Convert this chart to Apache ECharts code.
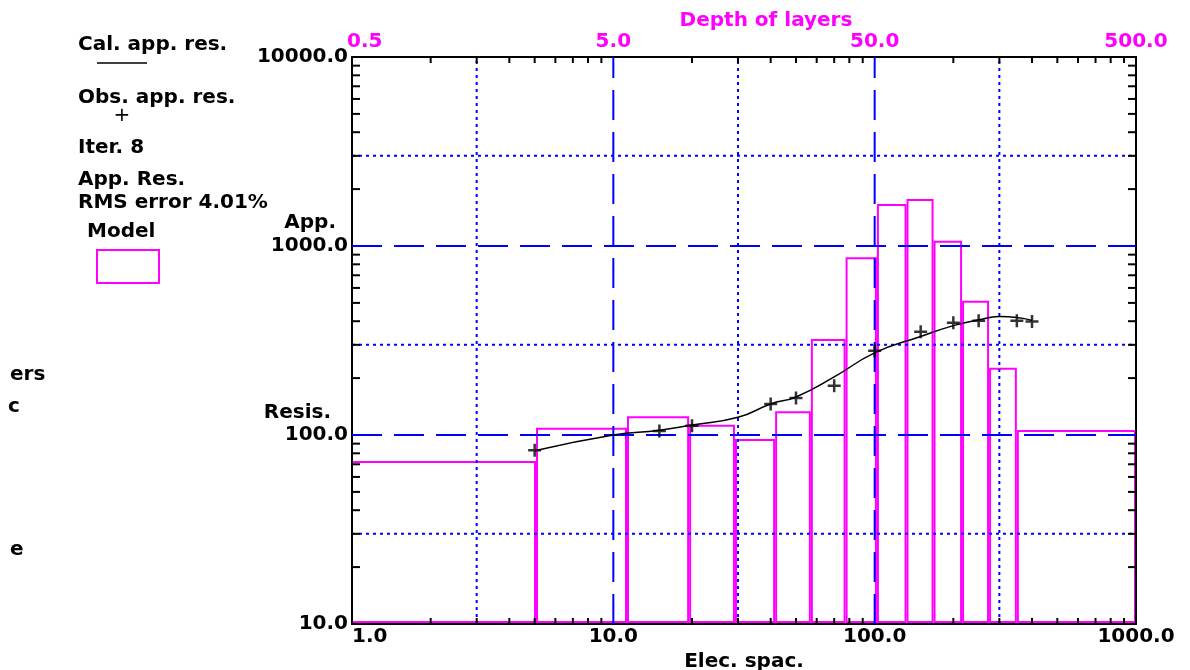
<!DOCTYPE html>
<html>
<head>
<meta charset="UTF-8">
<title>Resistivity sounding</title>
<script src="https://cdn.jsdelivr.net/npm/echarts@6/dist/echarts.min.js"></script>
<style>
body{margin:0;background:#fff}
#chart{width:1190px;height:670px}
</style>
</head>
<body>
<div id="chart"></div>
<script>
// observed apparent resistivity (electrode spacing, ohm.m)
var obsSpac = [5, 15, 20, 40, 50, 70, 100, 150, 200, 250, 350, 400];
var obsRes = [83, 105, 112, 146, 157, 182, 279, 352, 393, 402, 402, 398];
// calculated apparent resistivity
var calSpac = [5, 10, 15, 20, 30, 40, 50, 70, 100, 150, 200, 250, 300, 350, 400];
var calRes = [82.6, 100, 106, 113, 124, 146, 159, 203, 272, 332, 379, 407, 423, 418, 404];
// model: depth to bottom of each layer, resistivity of each layer
var layerBottom = [2.53, 5.64, 9.75, 14.6, 20.8, 28.5, 38.7, 51.0, 66.2, 84.0, 108, 137, 175];
var layerRes = [72, 108, 124, 112, 94, 132, 318, 861, 1650, 1750, 1054, 507, 224, 105];
// axis decoration
var depthLabels = [0.5, 5, 50, 500];
var xMinor = [2, 3, 4, 5, 6, 7, 8, 9, 20, 30, 40, 50, 60, 70, 80, 90, 200, 300, 400, 500, 600, 700, 800, 900];
var yMinor = [20, 30, 40, 50, 60, 70, 80, 90, 200, 300, 400, 500, 600, 700, 800, 900, 2000, 3000, 4000, 5000, 6000, 7000, 8000, 9000];
var xDash = [10, 100], xDot = [3, 30, 300];
var yDash = [100, 1000], yDot = [30, 300, 3000];

var FONT = 'bold 20px "DejaVu Sans"';
var BLUE = '#0000ff', PINK = '#ff00ff';

var chart = echarts.init(document.getElementById('chart'));

// layer boxes, in depth units on the top axis
var layerData = layerRes.map(function (r, i) {
	var d0 = i === 0 ? 0.5 : layerBottom[i - 1];
	var d1 = i < layerBottom.length ? layerBottom[i] : 500;
	return [d0, d1, r];
});

function renderLayer(params, api) {
	var a = api.coord([api.value(0), api.value(2)]);
	var b = api.coord([api.value(1), 10]);
	var x0 = params.dataIndex === 0 ? a[0] : a[0] + 1;
	return {
		type: 'rect',
		shape: {x: x0, y: a[1], width: b[0] - x0 - 1, height: b[1] - a[1] - 2},
		style: {fill: null, stroke: PINK, lineWidth: 2}
	};
}

function vLine(dash) {
	return function (params, api) {
		var b = api.coord([api.value(0), 10]);
		var t = api.coord([api.value(0), 10000]);
		return {type: 'line', shape: {x1: b[0], y1: b[1], x2: t[0], y2: t[1]},
			style: {stroke: BLUE, lineWidth: 2, lineDash: dash}};
	};
}
function hLine(dash) {
	return function (params, api) {
		var l = api.coord([1, api.value(1)]);
		var r = api.coord([1000, api.value(1)]);
		return {type: 'line', shape: {x1: l[0], y1: l[1], x2: r[0], y2: r[1]},
			style: {stroke: BLUE, lineWidth: 2, lineDash: dash}};
	};
}

function renderXTick(params, api) {
	var b = api.coord([api.value(0), 10]);
	var t = api.coord([api.value(0), 10000]);
	return {type: 'group', children: [
		{type: 'line', shape: {x1: b[0], y1: b[1], x2: b[0], y2: b[1] - 6}, style: {stroke: '#000', lineWidth: 2}},
		{type: 'line', shape: {x1: t[0], y1: t[1], x2: t[0], y2: t[1] + 6}, style: {stroke: '#000', lineWidth: 2}}
	]};
}
function renderYTick(params, api) {
	var l = api.coord([1, api.value(1)]);
	var r = api.coord([1000, api.value(1)]);
	return {type: 'group', children: [
		{type: 'line', shape: {x1: l[0], y1: l[1], x2: l[0] + 8, y2: l[1]}, style: {stroke: '#000', lineWidth: 2}},
		{type: 'line', shape: {x1: r[0], y1: r[1], x2: r[0] - 8, y2: r[1]}, style: {stroke: '#000', lineWidth: 2}}
	]};
}

function renderDepthLabel(params, api) {
	var p = api.coord([api.value(0), 10000]);
	var first = params.dataIndex === 0;
	return {
		type: 'text',
		x: first ? p[0] - 5 : p[0],
		y: p[1] - 5,
		style: {
			text: api.value(0).toFixed(1),
			font: FONT, fill: PINK,
			align: first ? 'left' : 'center', textAlign: first ? 'left' : 'center',
			verticalAlign: 'bottom', textVerticalAlign: 'bottom'
		}
	};
}

function txt(s, x, y, align, color) {
	return {
		type: 'text', x: x, y: y, silent: true,
		style: {text: s, font: FONT, fill: color || '#000',
			align: align || 'left', textAlign: align || 'left',
			verticalAlign: 'middle', textVerticalAlign: 'middle'}
	};
}

var plusPath = 'path://M5.25,0H7.75V5.25H13V7.75H7.75V13H5.25V7.75H0V5.25H5.25Z';

var option = {
	animation: false,
	backgroundColor: '#fff',
	textStyle: {fontFamily: 'DejaVu Sans'},
	grid: {left: 352, top: 57, right: 54, bottom: 46, containLabel: false, outerBoundsMode: 'none'},
	xAxis: [
		{
			type: 'log', logBase: 10, min: 1, max: 1000, position: 'bottom', z: 1,
			name: 'Elec. spac.', nameLocation: 'middle', nameGap: 25,
			nameTextStyle: {fontWeight: 'bold', fontSize: 20, color: '#000'},
			axisLine: {lineStyle: {color: '#000', width: 2}},
			axisTick: {show: false},
			splitLine: {show: false},
			axisLabel: {
				color: '#000', fontWeight: 'bold', fontSize: 20, margin: 3,
				alignMinLabel: 'left',
				formatter: function (v) { return v.toFixed(1); }
			}
		},
		{
			type: 'log', logBase: 10, min: 0.5, max: 500, position: 'top', z: 1,
			axisLine: {lineStyle: {color: '#000', width: 2}},
			axisTick: {show: false},
			axisLabel: {show: false},
			splitLine: {show: false}
		}
	],
	yAxis: [
		{
			type: 'log', logBase: 10, min: 10, max: 10000, position: 'left', z: 1,
			axisLine: {lineStyle: {color: '#000', width: 2}},
			axisTick: {show: false},
			splitLine: {show: false},
			axisLabel: {
				color: '#000', fontWeight: 'bold', fontSize: 20, margin: 4,
				formatter: function (v) { return v.toFixed(1); }
			}
		},
		{
			type: 'log', logBase: 10, min: 10, max: 10000, position: 'right', z: 1,
			axisLine: {lineStyle: {color: '#000', width: 2}},
			axisTick: {show: false},
			axisLabel: {show: false},
			splitLine: {show: false}
		}
	],
	graphic: [
		txt('Cal. app. res.', 78, 45),
		{type: 'line', shape: {x1: 97, y1: 63, x2: 147, y2: 63}, style: {stroke: '#000', lineWidth: 1.5}},
		txt('Obs. app. res.', 78, 98),
		{type: 'text', x: 122, y: 116, style: {text: '+', font: '20px "DejaVu Sans"', fill: '#000',
			align: 'center', textAlign: 'center', verticalAlign: 'middle', textVerticalAlign: 'middle'}},
		txt('Iter. 8', 78, 148),
		txt('App. Res.', 78, 180),
		txt('RMS error 4.01%', 78, 203),
		txt('Model', 87, 232),
		{type: 'rect', shape: {x: 97, y: 250, width: 62, height: 33}, style: {fill: null, stroke: PINK, lineWidth: 2}},
		txt('App.', 336, 223, 'right'),
		txt('Resis.', 331, 413, 'right'),
		txt('Depth of layers', 766, 21, 'center', PINK),
		txt('ers', 10, 375),
		txt('c', 8, 407),
		txt('e', 10, 550)
	],
	series: [
		{
			name: 'Model', type: 'custom', xAxisIndex: 1, yAxisIndex: 0, z: 0,
			encode: {x: [0, 1], y: 2},
			renderItem: renderLayer, data: layerData, silent: true
		},
		{type: 'custom', z: 3, renderItem: vLine([30, 12]), data: xDash.map(function (v) { return [v, 10]; }), silent: true},
		{type: 'custom', z: 3, renderItem: vLine([3, 4]), data: xDot.map(function (v) { return [v, 10]; }), silent: true},
		{type: 'custom', z: 3, renderItem: hLine([30, 12]), data: yDash.map(function (v) { return [1, v]; }), silent: true},
		{type: 'custom', z: 3, renderItem: hLine([3, 4]), data: yDot.map(function (v) { return [1, v]; }), silent: true},
		{type: 'custom', z: 3, renderItem: renderXTick, data: xMinor.map(function (v) { return [v, 10]; }), silent: true},
		{type: 'custom', z: 3, renderItem: renderYTick, data: yMinor.map(function (v) { return [1, v]; }), silent: true},
		{
			type: 'custom', xAxisIndex: 1, yAxisIndex: 0, z: 3,
			renderItem: renderDepthLabel, data: depthLabels.map(function (v) { return [v, 10000]; }), silent: true
		},
		{
			name: 'Cal. app. res.', type: 'line', z: 4, smooth: true, symbol: 'none',
			lineStyle: {color: '#000', width: 1.5},
			data: calSpac.map(function (s, i) { return [s, calRes[i]]; })
		},
		{
			name: 'Obs. app. res.', type: 'scatter', z: 5, symbol: plusPath, symbolSize: 13,
			itemStyle: {color: '#000'},
			data: obsSpac.map(function (s, i) { return [s, obsRes[i]]; })
		}
	]
};
chart.setOption(option);
</script>
</body>
</html>
